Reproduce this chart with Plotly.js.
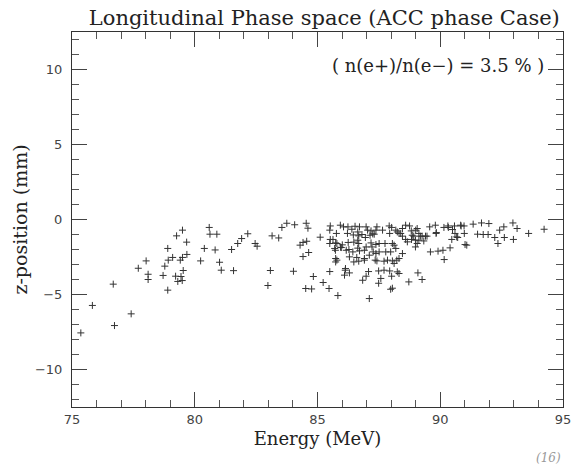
<!DOCTYPE html>
<html>
<head>
<meta charset="utf-8">
<script src="https://cdn.plot.ly/plotly-3.0.1.min.js"></script>
<style>html,body{margin:0;padding:0;background:#fff;}#chart{width:574px;height:468px;}</style>
</head>
<body>
<div id="chart"></div>
<script>
// Energy (MeV) of each tracked positron
const energy = [
  80.59,80.62,80.90,79.50,79.26,79.67,78.90,80.39,80.83,79.68,
  78.02,79.10,79.50,78.92,79.41,80.24,78.78,77.70,79.53,78.10,
  78.71,79.22,79.44,78.10,79.31,79.49,76.68,78.90,75.83,77.41,
  76.73,75.36,82.16,81.91,81.75,82.46,82.54,81.50,83.15,83.42,
  83.55,83.75,81.08,81.58,83.08,82.98,81.01,84.07,84.54,84.61,
  84.29,84.41,84.56,85.11,84.41,84.64,84.02,84.83,85.23,84.52,
  84.76,85.52,85.50,85.93,86.24,86.40,86.71,85.63,85.79,85.50,
  85.73,85.94,86.25,86.28,85.79,85.50,86.13,86.30,86.98,87.08,
  87.49,87.49,87.11,85.83,85.47,86.22,86.46,86.68,86.81,87.04,
  87.25,87.38,87.42,87.18,86.95,86.68,86.48,86.64,86.44,86.71,
  87.18,87.38,87.22,87.27,87.51,87.75,87.94,87.92,88.02,88.19,
  88.32,88.46,88.59,88.75,88.82,89.06,89.13,88.46,88.59,88.83,
  88.66,88.99,88.92,88.99,89.26,89.46,89.57,89.80,89.84,90.15,
  90.31,90.58,90.60,90.97,90.98,90.85,90.71,90.47,91.01,90.40,
  90.11,89.91,89.60,90.16,89.09,89.26,88.46,88.32,88.23,88.05,
  87.94,88.02,88.25,88.05,87.71,87.42,86.91,86.68,86.48,86.60,
  86.17,86.01,85.77,86.91,87.58,86.10,86.84,88.72,91.68,91.98,
  91.34,91.52,91.75,91.95,92.22,92.35,92.59,92.42,92.96,93.13,
  92.98,93.60,94.23,92.61,90.33,90.50,90.83,90.67,91.08,89.19,
  89.40,89.13,89.33,89.83,89.06,86.06,86.53,86.98,86.64,87.14,
  87.31,87.65,88.25,88.39,88.86,89.00,85.52,85.74,85.97,86.64,
  85.70,86.98,87.51,88.05,87.38,87.78,87.98,88.12,88.19,86.30,
  86.91,87.11,87.35,87.85,88.12,85.74,85.74,86.14,87.71,88.32,
  87.98
];
// z-position (mm) of each tracked positron
const zpos = [
  -0.53,-0.98,-0.98,-0.71,-1.09,-1.51,-1.93,-1.93,-2.03,-2.33,
  -2.76,-2.53,-2.53,-2.71,-2.71,-2.76,-3.11,-3.25,-3.40,-3.65,
  -3.73,-3.78,-3.80,-4.00,-4.13,-4.07,-4.31,-4.71,-5.73,-6.29,
  -7.07,-7.56,-0.95,-1.27,-1.60,-1.60,-1.78,-2.00,-1.09,-1.23,
  -0.53,-0.25,-3.38,-3.41,-3.40,-4.40,-2.85,-0.35,-0.25,-0.58,
  -1.71,-1.53,-1.45,-1.18,-2.47,-2.20,-3.45,-3.80,-4.20,-4.60,
  -4.63,-0.43,-0.71,-0.38,-0.49,-0.65,-0.49,-1.33,-1.60,-1.60,
  -2.05,-1.85,-1.53,-2.00,-2.71,-3.47,-3.38,-3.56,-3.78,-3.47,
  -3.43,-4.25,-5.27,-5.07,-4.60,-0.93,-1.03,-1.09,-1.00,-0.71,
  -0.96,-0.71,-0.49,-0.76,-1.20,-1.60,-1.51,-1.91,-2.16,-2.09,
  -1.56,-1.67,-1.83,-2.16,-2.16,-1.60,-0.93,-0.43,-0.53,-0.71,
  -0.93,-0.60,-0.38,-0.43,-0.76,-0.60,-0.93,-1.11,-1.33,-1.33,
  -1.49,-1.38,-1.11,-1.83,-1.11,-1.11,-0.49,-0.38,-0.87,-0.53,
  -0.43,-0.43,-0.93,-0.43,-0.93,-0.43,-1.20,-1.33,-1.67,-1.89,
  -2.05,-2.11,-2.16,-2.67,-3.56,-4.00,-2.27,-2.60,-2.71,-2.76,
  -3.43,-3.78,-3.49,-4.58,-2.78,-2.76,-2.71,-2.78,-2.83,-2.53,
  -2.05,-1.69,-0.93,-2.05,-3.93,-3.71,-4.05,-4.16,-0.23,-0.27,
  -0.31,-0.98,-1.00,-1.00,-1.20,-1.60,-0.49,-0.71,-0.23,-0.60,
  -1.33,-0.93,-0.65,-1.20,-0.53,-0.67,-0.38,-1.16,-1.71,-1.11,
  -1.11,-1.38,-1.43,-0.93,-1.60,-0.49,-0.45,-0.49,-0.83,-1.05,
  -0.98,-0.71,-0.83,-0.93,-1.05,-0.71,-1.33,-1.56,-1.87,-1.38,
  -1.93,-1.83,-1.60,-1.60,-2.27,-2.16,-2.16,-1.71,-1.93,-2.49,
  -2.60,-2.38,-2.71,-2.71,-2.93,-2.60,-2.83,-3.27,-3.38,-3.60,
  -4.65
];
const xTicks = [75, 80, 85, 90, 95];
const xTickText = ['75', '80', '85', '90', '95'];
const yTicks = [-10, -5, 0, 5, 10];
const yTickText = ['\u221210', '\u22125', '0', '5', '10'];
const titleText = 'Longitudinal Phase space (ACC phase Case)';
const ratioText = '( n(e+)/n(e\u2212) = 3.5 % )';
const xTitle = 'Energy (MeV)';
const yTitle = 'z-position (mm)';
const pageMark = '(16)';

const axisCommon = {
  showline: true, linecolor: '#333', linewidth: 1, mirror: 'ticks',
  ticks: 'inside', ticklen: 15, tickwidth: 1, tickcolor: '#444',
  showgrid: false, zeroline: false,
  tickfont: {family: 'DejaVu Sans, sans-serif', size: 13, color: '#444'},
  minor: {dtick: 1, ticks: 'inside', ticklen: 7, tickwidth: 1, tickcolor: '#555', showgrid: false}
};

const trace = {
  x: energy, y: zpos, type: 'scatter', mode: 'markers',
  marker: {symbol: 'cross-thin', size: 5, line: {width: 1, color: '#333'}, color: '#333'},
  hoverinfo: 'x+y', showlegend: false
};

const layout = {
  width: 574, height: 468,
  margin: {l: 72, r: 11, t: 32, b: 61},
  paper_bgcolor: '#fff', plot_bgcolor: '#fff',
  title: {text: titleText, font: {family: 'DejaVu Serif, serif', size: 21, color: '#222'},
          x: 0.565, xref: 'container', xanchor: 'center', y: 0.962, yref: 'container', yanchor: 'middle'},
  xaxis: Object.assign({}, axisCommon, {
    range: [75, 95], tickvals: xTicks, ticktext: xTickText,
    title: {text: xTitle, font: {family: 'DejaVu Serif, serif', size: 18, color: '#222'}, standoff: 6}
  }),
  yaxis: Object.assign({}, axisCommon, {
    range: [-12.5, 12.5], tickvals: yTicks, ticktext: yTickText,
    ticklabelstandoff: 6,
    title: {text: yTitle, font: {family: 'DejaVu Serif, serif', size: 19, color: '#222'}, standoff: 2}
  }),
  annotations: [
    {text: ratioText, xref: 'paper', yref: 'y', x: 0.965, y: 10.3, xanchor: 'right', yanchor: 'middle',
     showarrow: false, font: {family: 'DejaVu Serif, serif', size: 18, color: '#222'}},
    {text: '<i>' + pageMark + '</i>', xref: 'paper', yref: 'paper', x: 0.97, y: -0.135, xanchor: 'center', yanchor: 'middle',
     showarrow: false, font: {family: 'DejaVu Serif, serif', size: 12, color: '#999'}}
  ]
};

Plotly.newPlot('chart', [trace], layout, {staticPlot: true, displayModeBar: false});
</script>
</body>
</html>
